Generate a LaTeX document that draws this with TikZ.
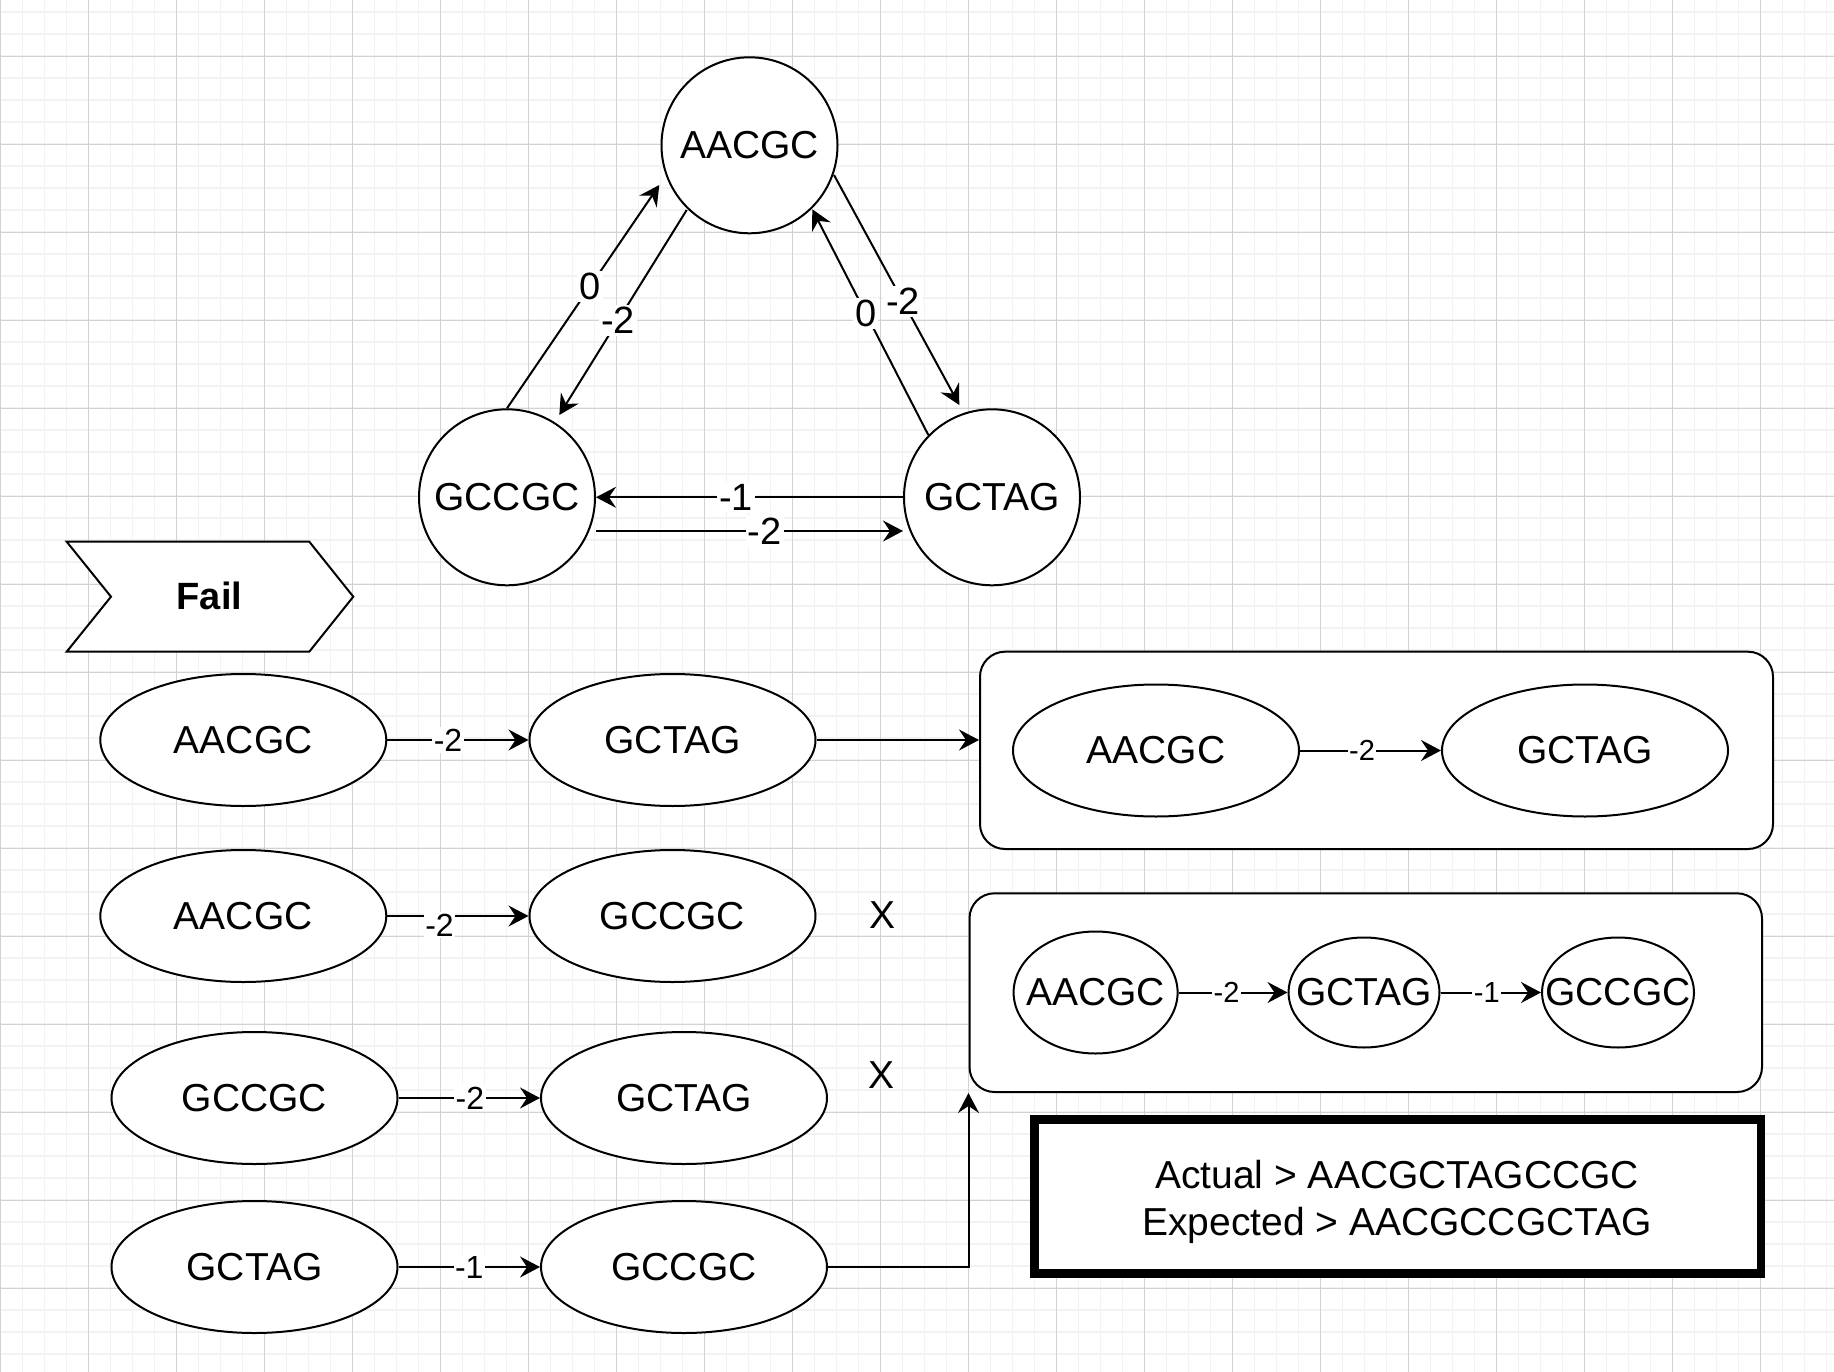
\documentclass[tikz,border=0pt]{standalone}
\usepackage{fontspec}
\setmainfont{Liberation Sans}
\usetikzlibrary{shapes.geometric,arrows.meta,calc}
\definecolor{gridminor}{RGB}{242,242,242}
\definecolor{gridmajor}{RGB}{210,210,210}
\newcommand\fontNode{\fontsize{39}{47}\selectfont}
\newcommand\fontTri{\fontsize{38}{45}\selectfont}
\newcommand\fontRow{\fontsize{32}{38}\selectfont}
\newcommand\fontBox{\fontsize{29}{35}\selectfont}
\newcommand\fontFail{\fontsize{38}{46}\selectfont\bfseries}
\begin{document}
\begin{tikzpicture}[x=1pt,y=-1pt,
  ell/.style={draw, line width=2pt, ellipse, fill=white, inner sep=0pt,
    label={[font=\fontNode, inner sep=0pt]center:#1}},
  tri/.style={minimum width=176pt, minimum height=176pt},
  rowell/.style={minimum width=286pt, minimum height=132pt},
  arr/.style={line width=2pt, -{Stealth[length=20pt,width=21pt,inset=7pt]}},
  lbtri/.style={fill=white, inner sep=2pt, font=\fontTri},
  lbrow/.style={fill=white, inner sep=1.5pt, font=\fontRow},
  lbbox/.style={fill=white, inner sep=1.5pt, font=\fontBox},
  roundbox/.style={draw, line width=2pt, fill=white, rounded corners=25pt, inner sep=0pt},
  gminor/.style={draw=gridminor, line width=1.5pt},
  gmajor/.style={draw=gridmajor, line width=1pt},
]
\useasboundingbox (0,0) rectangle (1834,1372);
% grid
\begin{scope}
\clip (0,0) rectangle (1834,1372);
\fill[white] (0,0) rectangle (1834,1372);
\foreach \i in {0,...,83} \draw[gminor] ({0.3+22*\i},0) -- ({0.3+22*\i},1372);
\foreach \j in {0,...,62} \draw[gminor] (0,{12.2+22*\j}) -- (1834,{12.2+22*\j});
\foreach \i in {0,...,20} \draw[gmajor] ({0.3+88*\i},0) -- ({0.3+88*\i},1372);
\foreach \j in {0,...,14} \draw[gmajor] (0,{56.2+88*\j}) -- (1834,{56.2+88*\j});
\end{scope}

% triangle graph
\node[ell={AACGC}, tri] (ta) at (749.5,145.3) {};
\node[ell={GCCGC}, tri] (tg) at (507,497.3) {};
\node[ell={GCTAG}, tri] (tt) at (992,497.3) {};

\draw[arr] (tg.north) -- node[lbtri,pos=0.545] {0} ([shift={(-90.2,39.7)}]ta.center);
\draw[arr] ([shift={(-62.8,64.7)}]ta.center) -- node[lbtri,pos=0.54] {-2} ([shift={(52.3,-82.3)}]tg.center);
\draw[arr] ([shift={(-63.7,-62.3)}]tt.center) -- node[lbtri,pos=0.54] {0} ([shift={(62.8,64)}]ta.center);
\draw[arr] ([shift={(84.5,29.7)}]ta.center) -- node[lbtri,pos=0.55] {-2} ([shift={(-32.7,-92.3)}]tt.center);
\draw[arr] (tt.west) -- node[lbtri,pos=0.544] {-1} (tg.east);
\draw[arr] ([yshift=-33.7pt]tg.east) -- node[lbtri,pos=0.55] {-2} ([yshift=-33.7pt]tt.west);

% Fail banner
\draw[line width=2pt, fill=white, line join=miter] (66.7,541.7) -- (309.3,541.7) -- (353.3,596.7) -- (309.3,651.7) -- (66.7,651.7) -- (111,596.7) -- cycle;
\node[font=\fontFail, inner sep=0pt] (fail) at (209.5,596) {Fail};

% right boxes
\node[roundbox, minimum width=793pt, minimum height=197.3pt] (box1) at (1376.5,750.35) {};
\node[roundbox, minimum width=792.5pt, minimum height=198.7pt] (box2) at (1365.75,992.65) {};
\node[draw, line width=8.5pt, fill=white, minimum width=726.5pt, minimum height=153.8pt, inner sep=0pt] (box3) at (1397.75,1196.4) {};

% rows
\node[ell={AACGC}, rowell] (r1a) at (243.3,740) {};
\node[ell={GCTAG}, rowell] (r1b) at (672.5,740) {};
\node[ell={AACGC}, rowell] (r2a) at (243.3,916) {};
\node[ell={GCCGC}, rowell] (r2b) at (672.5,916) {};
\node[ell={GCCGC}, rowell] (r3a) at (254.5,1098) {};
\node[ell={GCTAG}, rowell] (r3b) at (684,1098) {};
\node[ell={GCTAG}, rowell] (r4a) at (254.5,1267) {};
\node[ell={GCCGC}, rowell] (r4b) at (684,1267) {};

\draw[arr] (r1a) -- node[lbrow,pos=0.43] {-2} (r1b);
\draw[arr] (r2a) -- node[lbrow,pos=0.37,yshift=-9pt] {-2} (r2b);
\draw[arr] (r3a) -- node[lbrow,pos=0.505] {-2} (r3b);
\draw[arr] (r4a) -- node[lbrow,pos=0.5] {-1} (r4b);

\draw[arr] (r1b.east) -- (r1b.east -| box1.west);
\draw[arr] (r4b.east) -| (box2.south west);

\node[font=\fontNode, inner sep=0pt] (x1) at (882,915) {X};
\node[font=\fontNode, inner sep=0pt] (x2) at (881,1075) {X};

% box 1 content
\node[ell={AACGC}, rowell] (b1a) at (1156,750.5) {};
\node[ell={GCTAG}, rowell] (b1b) at (1585,750.5) {};
\draw[arr] (b1a) -- node[lbbox,pos=0.44] {-2} (b1b);

% box 2 content
\node[ell={AACGC}, minimum width=164pt, minimum height=122pt] (b2a) at (1095.6,992.5) {};
\node[ell={GCTAG}, minimum width=151pt, minimum height=110pt] (b2b) at (1364,992.5) {};
\node[ell={GCCGC}, minimum width=152pt, minimum height=110pt] (b2c) at (1618,992.5) {};
\draw[arr] (b2a) -- node[lbbox,pos=0.44] {-2} (b2b);
\draw[arr] (b2b) -- node[lbbox,pos=0.46] {-1} (b2c);

% box 3 text
\node[font=\fontNode, anchor=base, inner sep=0pt] (actual) at (1397,1188.3) {Actual > AACGCTAGCCGC};
\node[font=\fontNode, anchor=base, inner sep=0pt] (expected) at (1397,1235) {Expected > AACGCCGCTAG};
\end{tikzpicture}
\end{document}
